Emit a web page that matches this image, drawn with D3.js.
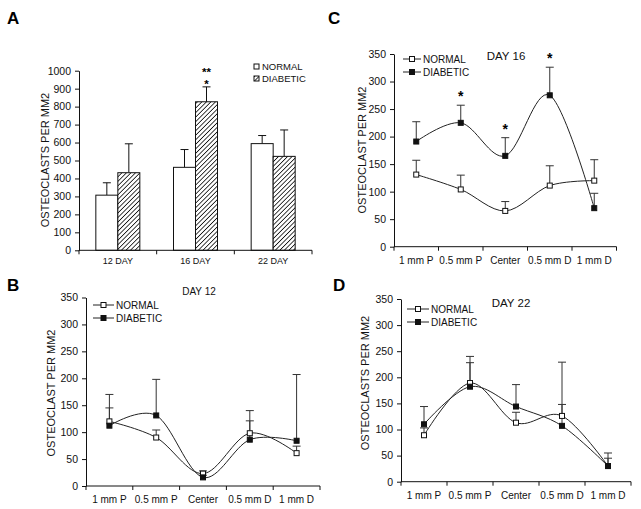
<!DOCTYPE html>
<html><head><meta charset="utf-8">
<script src="https://cdn.jsdelivr.net/npm/d3@7"></script>
<style>body{margin:0;background:#fff}svg{display:block;font-family:"Liberation Sans",Arial,sans-serif}</style>
</head><body><svg id="c" width="641" height="509"></svg>
<script>
// Panel A data
const daysA = ["12 DAY","16 DAY","22 DAY"];
const normalA = [307, 462, 594];
const normalAErr = [376, 561, 639];
const diabeticA = [432, 827, 523];
const diabeticAErr = [593, 910, 670];
const ticksA = [0,100,200,300,400,500,600,700,800,900,1000];

// Line panels
const sites = ["1 mm P","0.5 mm P","Center","0.5 mm D","1 mm D"];
const ticksLine = [0,50,100,150,200,250,300,350];
// Day 12 (B)
const normalB = [120, 90, 23, 98, 61];
const normalBErr = [145, 104, 28, 121, 74];
const diabeticB = [112, 131, 16, 86, 84];
const diabeticBErr = [170, 198, 20, 140, 207];
// Day 16 (C)
const normalC = [131, 104, 65, 111, 120];
const normalCErr = [157, 130, 82, 147, 158];
const diabeticC = [191, 225, 165, 275, 70];
const diabeticCErr = [227, 257, 198, 326, 97];
// Day 22 (D)
const normalD = [89, 189, 113, 126, 30];
const normalDErr = [103, 228, 133, 148, 45];
const diabeticD = [110, 182, 144, 107, 30];
const diabeticDErr = [144, 240, 186, 229, 55];

const svg = d3.select("#c");
const defs = svg.append("defs");
const pat = defs.append("pattern").attr("id","hatch").attr("patternUnits","userSpaceOnUse")
  .attr("width",3.2).attr("height",3.2).attr("patternTransform","rotate(45)");
pat.append("rect").attr("width",3.2).attr("height",3.2).attr("fill","#fff");
pat.append("line").attr("x1",0).attr("y1",0).attr("x2",0).attr("y2",3.2).attr("stroke","#111").attr("stroke-width",1.6);

function letter(t,x,y){
  svg.append("text").attr("x",x).attr("y",y).attr("font-size",17).attr("font-weight","bold").text(t);
}
function yTitle(t,x,y){
  svg.append("text").attr("transform",`translate(${x},${y}) rotate(-90)`).attr("text-anchor","middle")
    .attr("font-size",11).attr("fill","#111").text(t);
}
function yAxis(g,y,ticks){
  const ax = g.append("g").call(d3.axisLeft(y).tickValues(ticks).tickFormat(d3.format("d")).tickSize(4).tickSizeOuter(0));
  ax.select(".domain").attr("stroke","#111");
  ax.selectAll(".tick line").attr("stroke","#111");
  ax.selectAll("text").attr("font-size",10.5).attr("font-family","Liberation Sans, Arial").attr("fill","#111").attr("dx",-1);
}
function xAxisBands(g,x,y0,cats,x0,x1,fs,dy){
  g.append("line").attr("x1",x0).attr("x2",x1).attr("y1",y0).attr("y2",y0).attr("stroke","#111");
  const edges = cats.map(c=>x(c)).concat([x1]);
  edges.forEach(e=>g.append("line").attr("x1",e).attr("x2",e).attr("y1",y0).attr("y2",y0+4).attr("stroke","#111"));
  cats.forEach(c=>g.append("text").attr("x",x(c)+x.bandwidth()/2).attr("y",y0+dy)
    .attr("text-anchor","middle").attr("font-size",fs).attr("fill","#111").text(c));
}

// ---------- Panel A ----------
(function(){
  const g = svg.append("g");
  const x0=79, x1=312, yb=250.3, yt=70.7;
  const x = d3.scaleBand().domain(daysA).range([x0,x1]);
  const y = d3.scaleLinear().domain([0,1000]).range([yb,yt]);
  const bw = 22;
  daysA.forEach((d,i)=>{
    const c = x(d)+x.bandwidth()/2;
    [[c-bw/2,normalA[i],normalAErr[i]],[c+bw/2,diabeticA[i],diabeticAErr[i]]].forEach(([cx,v,e])=>{
      g.append("line").attr("x1",cx).attr("x2",cx).attr("y1",y(v)).attr("y2",y(e)).attr("stroke","#111");
      g.append("line").attr("x1",cx-4).attr("x2",cx+4).attr("y1",y(e)).attr("y2",y(e)).attr("stroke","#111");
    });
    g.append("rect").attr("x",c-bw).attr("y",y(normalA[i])).attr("width",bw).attr("height",yb-y(normalA[i]))
      .attr("fill","#fff").attr("stroke","#111");
    g.append("rect").attr("x",c).attr("y",y(diabeticA[i])).attr("width",bw).attr("height",yb-y(diabeticA[i]))
      .attr("fill","url(#hatch)").attr("stroke","#111");
  });
  g.append("g").attr("transform",`translate(${x0},0)`).call(gg=>yAxis(gg,y,ticksA));
  xAxisBands(g,x,yb,daysA,x0,x1,9,14);
  // stars
  const c16 = x("16 DAY")+x.bandwidth()/2+bw/2;
  g.append("text").attr("x",c16).attr("y",y(diabeticAErr[1])-11).attr("text-anchor","middle").attr("font-size",11.5).attr("font-weight","bold").text("**");
  g.append("text").attr("x",c16).attr("y",y(diabeticAErr[1])+1.6).attr("text-anchor","middle").attr("font-size",11.5).attr("font-weight","bold").text("*");
  // legend
  g.append("rect").attr("x",254).attr("y",64).attr("width",5).attr("height",5).attr("fill","#fff").attr("stroke","#111");
  g.append("rect").attr("x",254).attr("y",76).attr("width",5).attr("height",5).attr("fill","url(#hatch)").attr("stroke","#111");
  g.append("text").attr("x",262).attr("y",70).attr("font-size",9.5).attr("fill","#111").text("NORMAL");
  g.append("text").attr("x",262).attr("y",82).attr("font-size",9.5).attr("fill","#111").text("DIABETIC");
  yTitle("OSTEOCLASTS PER MM2",49,160);
  letter("A",7,24);
})();

function linePanel(o){
  const g = svg.append("g");
  const x = d3.scaleBand().domain(sites).range([o.x0,o.x1]);
  const y = d3.scaleLinear().domain([0,350]).range([o.yb,o.yt]);
  const cx = d=>x(d)+x.bandwidth()/2;
  const line = d3.line().x((d,i)=>cx(sites[i])).y(d=>y(d)).curve(d3.curveCatmullRom.alpha(0));
  const series = [[o.n,o.nErr,"#fff"],[o.d,o.dErr,"#111"]];
  series.forEach(([v,e])=>{
    v.forEach((val,i)=>{
      const xx = cx(sites[i]);
      g.append("line").attr("x1",xx).attr("x2",xx).attr("y1",y(val)).attr("y2",y(e[i])).attr("stroke","#333");
      g.append("line").attr("x1",xx-4).attr("x2",xx+4).attr("y1",y(e[i])).attr("y2",y(e[i])).attr("stroke","#333");
    });
  });
  series.forEach(([v])=>{
    g.append("path").attr("d",line(v)).attr("fill","none").attr("stroke","#222").attr("stroke-width",1);
  });
  series.forEach(([v,e,f])=>{
    v.forEach((val,i)=>{
      g.append("rect").attr("x",cx(sites[i])-2.5).attr("y",y(val)-2.5).attr("width",5).attr("height",5)
        .attr("fill",f).attr("stroke","#111");
    });
  });
  g.append("g").attr("transform",`translate(${o.x0},0)`).call(gg=>yAxis(gg,y,ticksLine));
  xAxisBands(g,x,o.yb,sites,o.x0,o.x1,10,o.xdy);
  g.append("text").attr("x",o.tx).attr("y",o.ty).attr("text-anchor","middle").attr("font-size",o.tfs).attr("fill","#111").text(o.title);
  [["NORMAL","#fff",o.ly],["DIABETIC","#111",o.ly+13]].forEach(([t,f,ly])=>{
    g.append("line").attr("x1",o.lx).attr("x2",o.lx+o.lw).attr("y1",ly).attr("y2",ly).attr("stroke","#222");
    g.append("rect").attr("x",o.lx+o.lw/2-2.5).attr("y",ly-2.5).attr("width",5).attr("height",5).attr("fill",f).attr("stroke","#111");
    g.append("text").attr("x",o.lx+o.lw+2).attr("y",ly+3.5).attr("font-size",10).attr("fill","#111").text(t);
  });
  if(o.stars) o.stars.forEach(i=>{
    g.append("text").attr("x",cx(sites[i])).attr("y",y(o.dErr[i])-4).attr("text-anchor","middle").attr("font-size",14).attr("font-weight","bold").text("*");
  });
  yTitle(o.ytitle,o.ytx,o.yty);
  letter(o.letter,o.lX,o.lY);
}

linePanel({x0:86,x1:320,yb:486,yt:297.5,n:normalB,nErr:normalBErr,d:diabeticB,dErr:diabeticBErr,
  title:"DAY 12",tx:199,ty:295,tfs:10,lx:93,lw:21,ly:305,xdy:17,ytitle:"OSTEOCLAST PER MM2",ytx:55,yty:393,letter:"B",lX:7,lY:291});
linePanel({x0:394,x1:616.5,yb:246.7,yt:54,n:normalC,nErr:normalCErr,d:diabeticC,dErr:diabeticCErr,
  title:"DAY 16",tx:506,ty:60,tfs:11.5,lx:403,lw:18,ly:59,xdy:17,ytitle:"OSTEOCLAST PER MM2",ytx:366,yty:150,letter:"C",lX:328,lY:24,stars:[1,2,3]});
linePanel({x0:401,x1:631,yb:481.7,yt:299,n:normalD,nErr:normalDErr,d:diabeticD,dErr:diabeticDErr,
  title:"DAY 22",tx:511,ty:307,tfs:11.5,lx:407,lw:22,ly:309,xdy:17,ytitle:"OSTEOCLASTS PER MM2",ytx:369,yty:383,letter:"D",lX:333,lY:291});
</script></body></html>
